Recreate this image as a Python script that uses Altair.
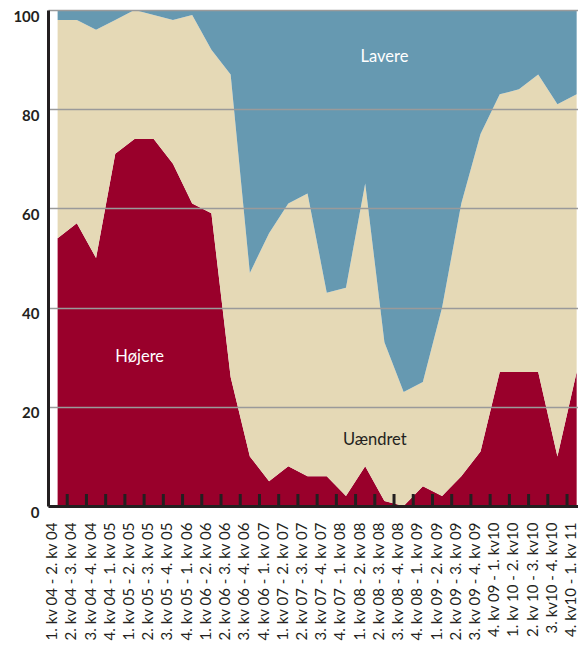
import json
import altair as alt
import pandas as pd

periods = [
    "1. kv 04 - 2. kv 04", "2. kv 04 - 3. kv 04", "3. kv 04 - 4. kv 04", "4. kv 04 - 1. kv 05",
    "1. kv 05 - 2. kv 05", "2. kv 05 - 3. kv 05", "3. kv 05 - 4. kv 05", "4. kv 05 - 1. kv 06",
    "1. kv 06 - 2. kv 06", "2. kv 06 - 3. kv 06", "3. kv 06 - 4. kv 06", "4. kv 06 - 1. kv 07",
    "1. kv 07 - 2. kv 07", "2. kv 07 - 3. kv 07", "3. kv 07 - 4. kv 07", "4. kv 07 - 1. kv 08",
    "1. kv 08 - 2. kv 08", "2. kv 08 - 3. kv 08", "3. kv 08 - 4. kv 08", "4. kv 08 - 1. kv 09",
    "1. kv 09 - 2. kv 09", "2. kv 09 - 3. kv 09", "3. kv 09 - 4. kv 09", "4. kv 09 - 1. kv10",
    "1. kv 10 - 2. kv10", "2. kv 10 - 3. kv10", "3. kv10 - 4. kv10", "4. kv10 - 1. kv 11",
]

hojere = [54, 57, 50, 71, 74, 74, 69, 61, 59, 26, 10, 5, 8, 6, 6, 2, 8, 1, 0, 4, 2, 6, 11, 27, 27, 27, 10, 27]
# Højere + Uændret (top of the beige band)
top_beige = [98, 98, 96, 98, 100, 99, 98, 99, 92, 87, 47, 55, 61, 63, 43, 44, 65, 33, 23, 25, 40, 61, 75, 83, 84, 87, 81, 83]
uaendret = [t - h for t, h in zip(top_beige, hojere)]
lavere = [100 - t for t in top_beige]

series_names = ["Højere", "Uændret", "Lavere"]
series_colors = ["#99002b", "#e5d9b6", "#6699b1"]

y_ticks = [0, 20, 40, 60, 80, 100]

ann_text = ["Lavere", "Højere", "Uændret"]
ann_x = [17.0, 4.27, 16.5]
ann_y = [90.5, 30.0, 13.3]
ann_color = ["white", "white", "#231f20"]

rows = []
for i in range(len(periods)):
    for k, (name, vals) in enumerate(zip(series_names, [hojere, uaendret, lavere])):
        rows.append({"idx": i, "period": periods[i], "serie": name, "order": k, "value": vals[i]})
df = pd.DataFrame(rows)

n = len(periods)
# the reference runs to the window's edge; the last half step is cut off
xscale = alt.Scale(domain=[-0.5, n - 0.93], nice=False, zero=False)
yscale = alt.Scale(domain=[0, 100], nice=False)

label_expr = json.dumps(periods) + "[round(datum.value)]"

font = "Lato"

x_axis = alt.Axis(values=list(range(n)), labelExpr=label_expr, title=None,
                  grid=False, ticks=False, labelAngle=-90, labelAlign="right",
                  labelBaseline="middle", labelPadding=16, labelOffset=-6,
                  labelOverlap=False, labelBound=False, labelFlush=False,
                  labelFont=font, labelFontSize=15, labelColor="#231f20",
                  domainColor="#231f20", domainWidth=3, zindex=1)
y_axis = alt.Axis(values=y_ticks, title=None, grid=True, gridColor="#9a9a9a",
                  gridWidth=1.5, ticks=False, labelPadding=9, labelOffset=6,
                  labelOverlap=False,
                  labelFont=font, labelFontSize=15, labelFontWeight="bold",
                  labelColor="#231f20", domainColor="#231f20", domainWidth=3,
                  zindex=1)

areas = alt.Chart(df).mark_area(interpolate="linear").encode(
    x=alt.X("idx:Q", scale=xscale, axis=x_axis),
    y=alt.Y("value:Q", stack="zero", scale=yscale, axis=y_axis),
    color=alt.Color("serie:N", scale=alt.Scale(domain=series_names, range=series_colors), legend=None),
    order=alt.Order("order:Q"),
)

tick_df = pd.DataFrame({"pos": [i + 0.5 for i in range(n)]})
ticks = alt.Chart(tick_df).mark_rule(color="#231f20", strokeWidth=3, clip=True).encode(
    x=alt.X("pos:Q", scale=xscale, axis=x_axis),
    y=alt.value(484),
    y2=alt.value(496),
)

ann_df = pd.DataFrame({"t": ann_text, "x": ann_x, "y": ann_y, "c": ann_color})
ann = alt.Chart(ann_df).mark_text(font=font, fontSize=16.5, align="center", baseline="middle").encode(
    x=alt.X("x:Q", scale=xscale, axis=x_axis),
    y=alt.Y("y:Q", scale=yscale, axis=y_axis),
    text="t:N",
    color=alt.Color("c:N", scale=None),
)

chart = alt.layer(areas, ticks, ann).properties(
    width=530, height=496,
    autosize=alt.AutoSizeParams(type="none"),
    padding={"left": 40, "top": 2, "right": 0, "bottom": 139},
).configure_view(stroke=None).configure_axis(labelOverlap=False)

chart.save("out.html", embed_options={"renderer": "svg", "actions": False})
